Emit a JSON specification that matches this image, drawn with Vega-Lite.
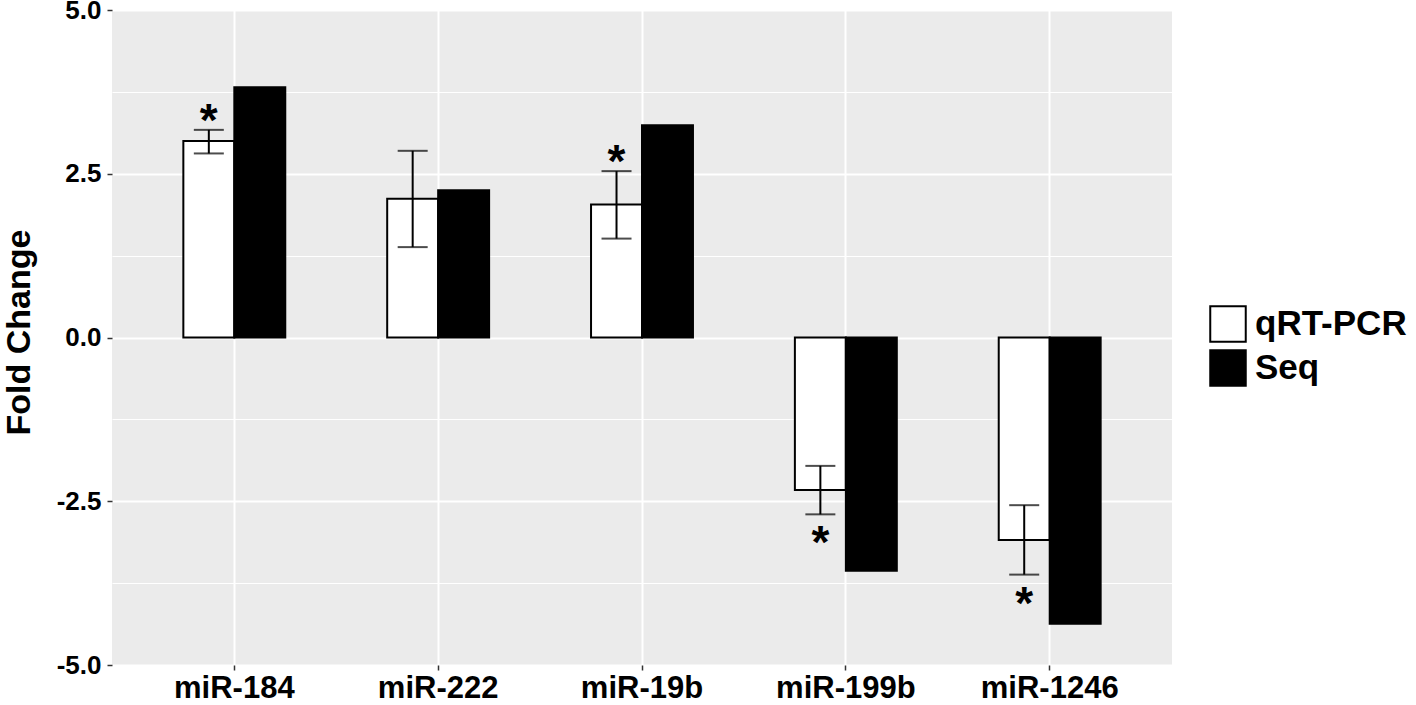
{
  "$schema": "https://vega.github.io/schema/vega-lite/v6.json",
  "width": 1060,
  "height": 655,
  "autosize": {"type": "none"},
  "padding": {"left": 112, "top": 10, "right": 244, "bottom": 40},
  "background": "white",
  "view": {"fill": "#EBEBEB", "stroke": null},
  "config": {
    "font": "Liberation Sans",
    "axis": {"labelFont": "Liberation Sans", "titleFont": "Liberation Sans"}
  },
  "data": {
    "values": [
      {"gene": "miR-184", "group": "qRT-PCR", "value": 3.0, "lower": 2.81, "upper": 3.17, "sig": true},
      {"gene": "miR-184", "group": "Seq", "value": 3.82},
      {"gene": "miR-222", "group": "qRT-PCR", "value": 2.12, "lower": 1.38, "upper": 2.85, "sig": false},
      {"gene": "miR-222", "group": "Seq", "value": 2.25},
      {"gene": "miR-19b", "group": "qRT-PCR", "value": 2.03, "lower": 1.51, "upper": 2.54, "sig": true},
      {"gene": "miR-19b", "group": "Seq", "value": 3.24},
      {"gene": "miR-199b", "group": "qRT-PCR", "value": -2.33, "lower": -2.7, "upper": -1.96, "sig": true},
      {"gene": "miR-199b", "group": "Seq", "value": -3.56},
      {"gene": "miR-1246", "group": "qRT-PCR", "value": -3.09, "lower": -3.62, "upper": -2.56, "sig": true},
      {"gene": "miR-1246", "group": "Seq", "value": -4.37}
    ]
  },
  "encoding": {
    "x": {
      "field": "gene",
      "type": "nominal",
      "sort": ["miR-184", "miR-222", "miR-19b", "miR-199b", "miR-1246"],
      "scale": {"paddingInner": 0.5, "paddingOuter": 0.35},
      "axis": {
        "title": null,
        "labelAngle": 0,
        "labelFontSize": 31,
        "labelFontWeight": "bold",
        "labelColor": "black",
        "labelPadding": 3,
        "tickColor": "#333333",
        "tickSize": 5,
        "tickWidth": 1.5,
        "domain": false,
        "grid": true,
        "gridColor": "white",
        "gridWidth": 2,
        "bandPosition": 0.5
      }
    },
    "xOffset": {"field": "group", "type": "nominal", "sort": ["qRT-PCR", "Seq"]}
  },
  "layer": [
    {
      "mark": {"type": "bar", "stroke": "black", "strokeWidth": 2},
      "encoding": {
        "y": {
          "field": "value",
          "type": "quantitative",
          "scale": {"domain": [-5, 5], "nice": false},
          "axis": {
            "title": "Fold Change",
            "titleFontSize": 34,
            "titleFontWeight": "bold",
            "titleColor": "black",
            "titleX": -93,
            "titleY": 322,
            "titleAngle": -90,
            "titleBaseline": "middle",
            "titleAlign": "center",
            "values": [-5, -3.75, -2.5, -1.25, 0, 1.25, 2.5, 3.75, 5],
            "labelExpr": "datum.value == 5 ? '5.0' : datum.value == 2.5 ? '2.5' : datum.value == 0 ? '0.0' : datum.value == -2.5 ? '-2.5' : datum.value == -5 ? '-5.0' : ''",
            "labelFontSize": 26,
            "labelFontWeight": "bold",
            "labelColor": "black",
            "labelPadding": 6,
            "labelBaseline": "middle",
            "labelDy": 3,
            "tickColor": "#333333",
            "tickSize": 5,
            "tickWidth": 1.5,
            "tickOpacity": {"condition": {"test": "abs(datum.value) % 2.5 != 0", "value": 0}, "value": 1},
            "domain": false,
            "grid": true,
            "gridColor": "white",
            "gridWidth": {"condition": {"test": "abs(datum.value) % 2.5 != 0", "value": 1}, "value": 2},
            "labelOverlap": false,
            "labelBound": false
          }
        },
        "fill": {
          "field": "group",
          "type": "nominal",
          "scale": {"domain": ["qRT-PCR", "Seq"], "range": ["white", "black"]},
          "legend": {
            "title": null,
            "orient": "none",
            "legendX": 1097,
            "legendY": 295,
            "symbolType": "square",
            "symbolSize": 1260,
            "symbolStrokeColor": "black",
            "symbolStrokeWidth": 2,
            "labelFontSize": 35,
            "labelFontWeight": "bold",
            "labelColor": "black",
            "labelOffset": 8,
            "rowPadding": 0,
            "padding": 0
          }
        }
      }
    },
    {
      "transform": [{"filter": "isValid(datum.upper)"}],
      "mark": {"type": "rule", "color": "black", "strokeWidth": 2},
      "encoding": {
        "y": {"field": "lower", "type": "quantitative"},
        "y2": {"field": "upper"}
      }
    },
    {
      "transform": [{"filter": "isValid(datum.upper)"}],
      "mark": {"type": "tick", "color": "black", "size": 30, "thickness": 2, "orient": "horizontal"},
      "encoding": {
        "y": {"field": "upper", "type": "quantitative"}
      }
    },
    {
      "transform": [{"filter": "isValid(datum.upper)"}],
      "mark": {"type": "tick", "color": "black", "size": 30, "thickness": 2, "orient": "horizontal"},
      "encoding": {
        "y": {"field": "lower", "type": "quantitative"}
      }
    },
    {
      "transform": [{"filter": "datum.sig === true && datum.value > 0"}],
      "mark": {"type": "text", "text": "*", "fontSize": 46, "fontWeight": "bold", "color": "black", "baseline": "alphabetic", "dy": 6},
      "encoding": {
        "y": {"field": "upper", "type": "quantitative"}
      }
    },
    {
      "transform": [{"filter": "datum.sig === true && datum.value < 0"}],
      "mark": {"type": "text", "text": "*", "fontSize": 46, "fontWeight": "bold", "color": "black", "baseline": "alphabetic", "dy": 44},
      "encoding": {
        "y": {"field": "lower", "type": "quantitative"}
      }
    }
  ]
}
